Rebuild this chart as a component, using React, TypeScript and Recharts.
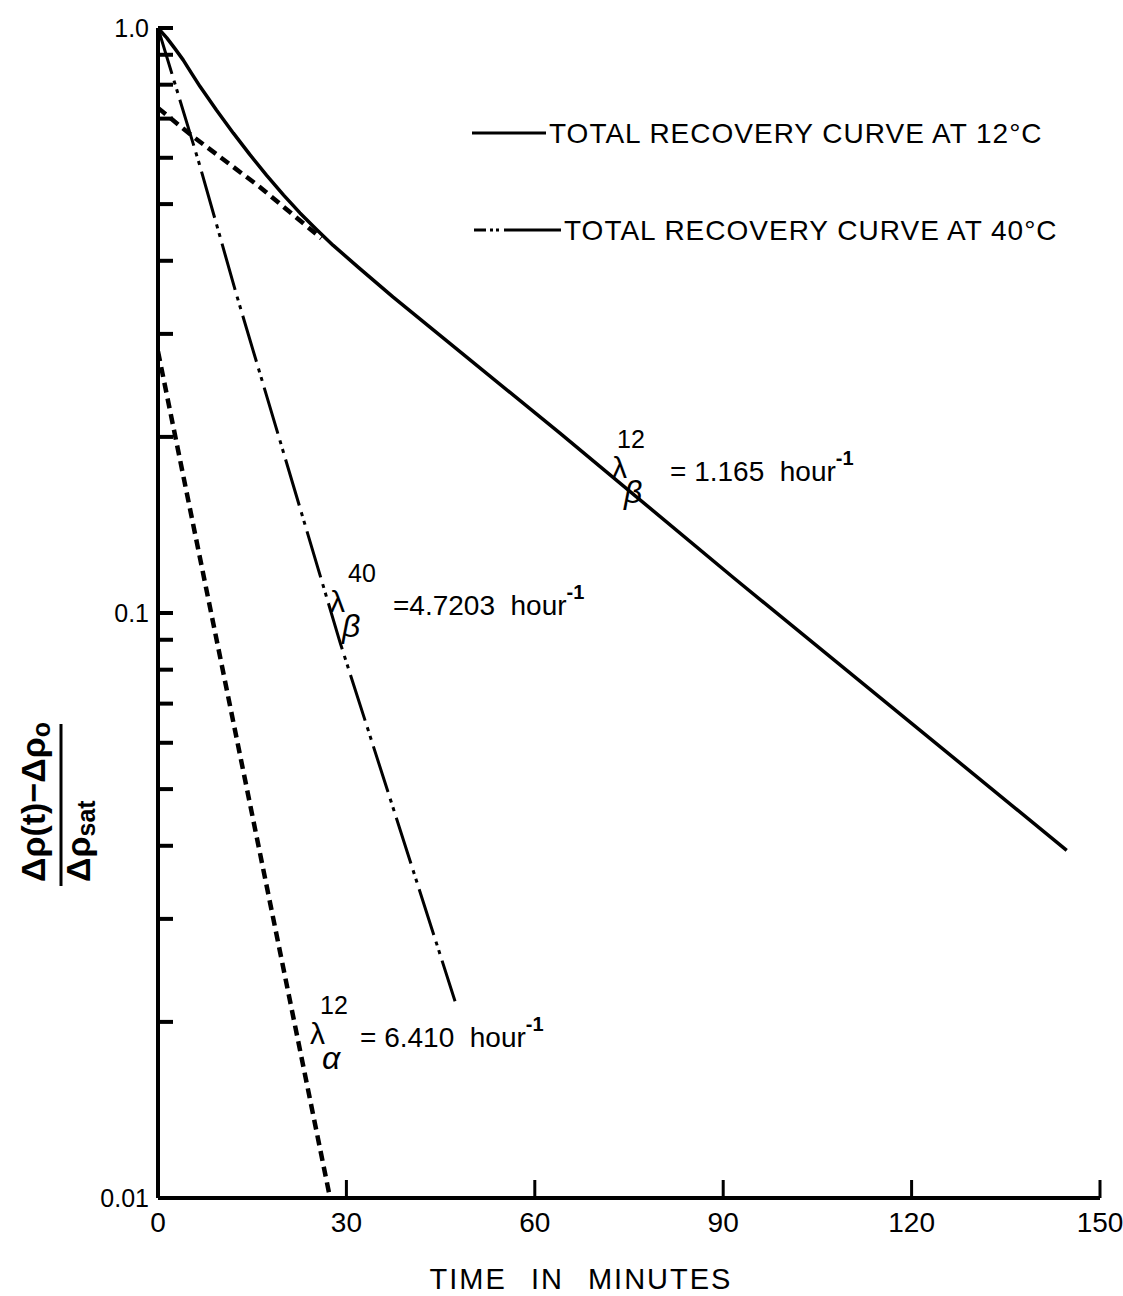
import { LineChart, Line, XAxis, YAxis, Customized } from 'recharts';

// time in minutes / normalised resistivity change
const minutes12 = [0, 1.4, 2.7, 4, 5.3, 6.7, 9.3, 12, 14.6, 17.3, 20, 22.6, 25.2, 27.9, 32, 37.4, 64, 91.6, 144.7];
const total12 = [1.0, 0.962, 0.922, 0.882, 0.838, 0.794, 0.724, 0.661, 0.608, 0.56, 0.518, 0.483, 0.453, 0.425, 0.389, 0.347, 0.203, 0.115, 0.0393];

const minutesBeta12 = [0, 5.6, 16.2, 26];
const beta12 = [0.73, 0.652, 0.535, 0.437];

const minutesAlpha12 = [0, 27.4];
const alpha12 = [0.28, 0.01];

const minutes40 = [0, 6.7, 12.5, 29, 47.3];
const total40 = [1.0, 0.58, 0.35, 0.089, 0.0217];

const xTicks = [0, 30, 60, 90, 120, 150];
const yTicks = [0.01, 0.02, 0.03, 0.04, 0.05, 0.06, 0.07, 0.08, 0.09, 0.1, 0.2, 0.3, 0.4, 0.5, 0.6, 0.7, 0.8, 0.9, 1.0];
const yLabels: Record<string, string> = { '0.01': '0.01', '0.1': '0.1', '1': '1.0' };

const W = 1123;
const H = 1296;
const LEFT = 158;
const TOP = 28;
const RIGHT = 1100;
const BOTTOM = 1198;
const FONT = '"Liberation Sans", Arial, sans-serif';
const NB = '\u00A0';

const pts = (xs: number[], ys: number[]) => xs.map((t, i) => ({ t, v: ys[i] }));

function YTick(props: any) {
  const { y, payload } = props;
  const label = yLabels[String(payload.value)];
  return (
    <g>
      <line x1={LEFT} x2={LEFT + 15} y1={y} y2={y} stroke="#000" strokeWidth={4} />
      {label && (
        <text x={LEFT - 9} y={y + 9} textAnchor="end" fontSize={25} fontFamily={FONT} fill="#000">
          {label}
        </text>
      )}
    </g>
  );
}

function XTick(props: any) {
  const { x, payload } = props;
  return (
    <g>
      {payload.value > 0 && (
        <line x1={x} x2={x} y1={BOTTOM} y2={BOTTOM - 18} stroke="#000" strokeWidth={3} />
      )}
      <text x={x} y={BOTTOM + 34} textAnchor="middle" fontSize={28} fontFamily={FONT} fill="#000">
        {payload.value}
      </text>
    </g>
  );
}

function Lambda(p: { x: number; y: number; sup: string; supDx: number; sub: string; value: string; valueDx: number }) {
  // x,y: left edge and baseline of the lambda
  return (
    <g fontFamily={FONT} fill="#000">
      <text x={p.x} y={p.y} fontSize={30}>λ</text>
      <text x={p.x + p.supDx} y={p.y - 30} fontSize={25}>{p.sup}</text>
      <text x={p.x + 12} y={p.y + 25} fontSize={32} fontStyle="italic">{p.sub}</text>
      <text x={p.x + p.valueDx} y={p.y + 3} fontSize={28}>
        {p.value}
        <tspan dy={-16} fontSize={20} fontWeight="bold">-1</tspan>
      </text>
    </g>
  );
}

function Overlay() {
  return (
    <g>
      {/* legend */}
      <line x1={472} x2={546} y1={133} y2={133} stroke="#000" strokeWidth={3} />
      <text x={549} y={143} fontSize={28} fontFamily={FONT} letterSpacing={1} fill="#000">
        TOTAL RECOVERY CURVE AT 12°C
      </text>
      <line x1={474} x2={561} y1={230} y2={230} stroke="#000" strokeWidth={3} strokeDasharray="12 4 3 3 3 5 60" />
      <text x={564} y={240} fontSize={28} fontFamily={FONT} letterSpacing={1} fill="#000">
        TOTAL RECOVERY CURVE AT 40°C
      </text>

      {/* decay constants */}
      <Lambda x={612} y={478} sup="12" supDx={5} sub="β" value={`= 1.165${NB}${NB}hour`} valueDx={58} />
      <Lambda x={330} y={612} sup="40" supDx={18} sub="β" value={`=4.7203${NB}${NB}hour`} valueDx={63} />
      <Lambda x={310} y={1044} sup="12" supDx={10} sub="α" value={`= 6.410${NB}${NB}hour`} valueDx={50} />

      {/* x axis title */}
      <text x={581} y={1289} textAnchor="middle" fontSize={29} fontFamily={FONT} letterSpacing={2} wordSpacing={14} fill="#000">
        TIME IN MINUTES
      </text>

      {/* y axis title: fraction */}
      <g transform="translate(0, 800) rotate(-90)" fontFamily={FONT} fontWeight="bold" fill="#000">
        <text x={-82} y={45} fontSize={34}>
          Δρ(t)−Δρ<tspan fontSize={25} dy={5}>o</tspan>
        </text>
        <line x1={-86} x2={76} y1={61} y2={61} stroke="#000" strokeWidth={3} />
        <text x={-82} y={90} fontSize={34}>
          Δρ<tspan fontSize={25} dy={5}>sat</tspan>
        </text>
      </g>
    </g>
  );
}

export default function App() {
  return (
    <div style={{ width: W, height: H, background: '#fff' }}>
      <style>{'body{margin:0}'}</style>
      <LineChart
        width={W}
        height={H}
        margin={{ top: TOP, right: W - RIGHT, bottom: H - BOTTOM - 40, left: LEFT - 60 }}
      >
        <XAxis
          dataKey="t"
          type="number"
          domain={[0, 150]}
          ticks={xTicks}
          height={40}
          axisLine={{ stroke: '#000', strokeWidth: 4 }}
          tickLine={false}
          tick={<XTick />}
          allowDataOverflow
        />
        <YAxis
          dataKey="v"
          type="number"
          scale="log"
          domain={[0.01, 1]}
          ticks={yTicks}
          width={60}
          axisLine={{ stroke: '#000', strokeWidth: 4 }}
          tickLine={false}
          tick={<YTick />}
          interval={0}
          allowDataOverflow
        />
        <Line
          data={pts(minutes12, total12)}
          dataKey="v"
          stroke="#000"
          strokeWidth={3.5}
          strokeLinejoin="round"
          dot={false}
          isAnimationActive={false}
        />
        <Line
          data={pts(minutesBeta12, beta12)}
          dataKey="v"
          stroke="#000"
          strokeWidth={4.5}
          strokeDasharray="10 6"
          dot={false}
          isAnimationActive={false}
        />
        <Line
          data={pts(minutesAlpha12, alpha12)}
          dataKey="v"
          stroke="#000"
          strokeWidth={4.5}
          strokeDasharray="10 6"
          dot={false}
          isAnimationActive={false}
        />
        <Line
          data={pts(minutes40, total40)}
          dataKey="v"
          stroke="#000"
          strokeWidth={3}
          strokeDasharray="48 7 4 5 4 7"
          dot={false}
          isAnimationActive={false}
        />
        <Customized component={<Overlay />} />
      </LineChart>
    </div>
  );
}
